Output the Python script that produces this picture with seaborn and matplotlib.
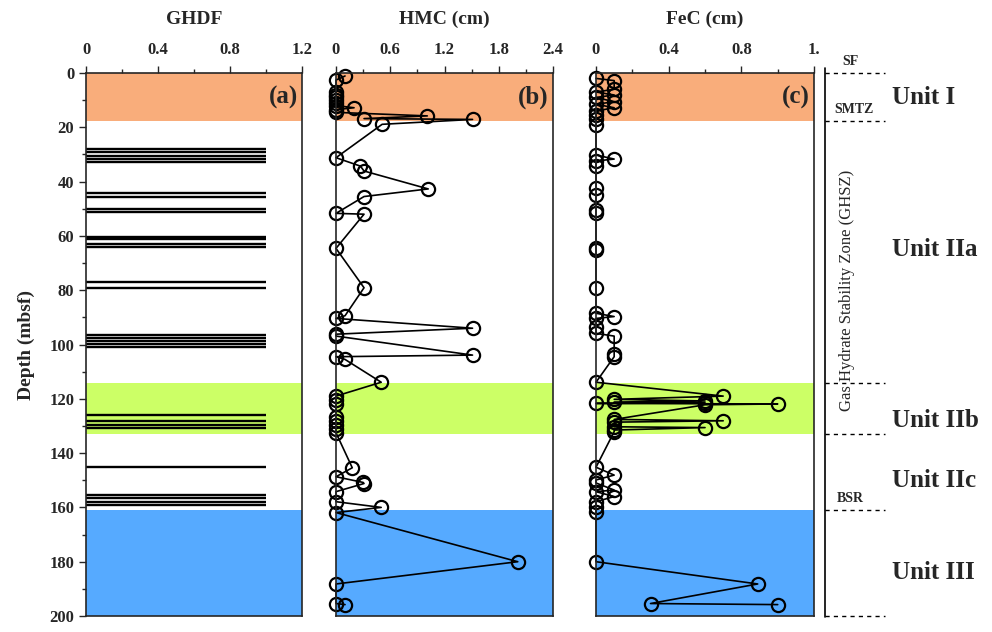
#!/usr/bin/env python3

import numpy as np
import pandas as pd
import seaborn as sns
import matplotlib.pyplot as plt
from matplotlib.ticker import MultipleLocator, FixedLocator

# GHDF: depths (mbsf) of the horizontal bars, each bar has value 1
ghdf_depth = [28.0, 29.2, 30.5, 31.6, 32.6,
              44.2, 45.5, 50.1, 51.1,
              60.3, 61.2, 63.0, 64.0,
              77.1, 79.1,
              96.5, 97.6, 98.7, 99.8, 100.8,
              125.8, 128.2, 129.5, 130.8,
              145.0,
              155.4, 156.6, 157.9, 159.1]
ghdf_value = 1.0

# HMC (cm) profile
hmc_depth = [1.1, 2.6, 7.0, 8.0, 9.0, 10.0, 11.0, 12.0, 12.8, 13.5, 14.5, 15.8, 16.8, 17.1, 18.9,
             31.2, 34.3, 36.1, 42.7, 45.5, 51.7, 52.0, 64.6, 79.1, 89.4, 90.4, 94.0, 96.2, 96.9,
             103.9, 104.5, 105.5, 113.9, 119.0, 120.5, 122.0, 126.6, 128.0, 129.5, 131.0, 132.5,
             145.4, 148.7, 150.8, 151.2, 154.2, 157.9, 160.0, 161.9, 180.0, 188.2, 195.4, 195.8]
hmc_value = [0.1, 0.0, 0.0, 0.0, 0.0, 0.0, 0.0, 0.0, 0.2, 0.0, 0.0, 1.01, 0.31, 1.51, 0.51,
             0.0, 0.27, 0.31, 1.02, 0.31, 0.0, 0.31, 0.0, 0.31, 0.1, 0.0, 1.51, 0.0, 0.0,
             1.51, 0.0, 0.1, 0.5, 0.0, 0.0, 0.0, 0.0, 0.0, 0.0, 0.0, 0.0,
             0.18, 0.0, 0.3, 0.31, 0.0, 0.0, 0.5, 0.0, 2.01, 0.0, 0.0, 0.1]

# FeC (cm) profile
fec_depth = [2.0, 2.8, 6.0, 7.0, 8.1, 9.0, 10.6, 11.5, 12.8, 14.0, 15.5, 17.0, 19.2,
             30.2, 31.7, 32.4, 34.3, 42.5, 44.9, 50.6, 51.5, 64.3, 65.2, 79.3,
             88.5, 89.7, 90.4, 93.4, 95.9, 96.9, 103.5, 104.5, 113.9,
             119.0, 120.2, 120.8, 121.2, 121.5, 121.7, 121.9, 122.2,
             127.6, 128.1, 128.6, 130.3, 130.6, 131.5, 132.1,
             145.2, 148.1, 149.9, 151.0, 153.6, 154.2, 156.0, 157.9, 159.7, 161.6,
             180.0, 188.2, 195.4, 195.8]
fec_value = [0.0, 0.1, 0.1, 0.0, 0.1, 0.0, 0.1, 0.0, 0.1, 0.0, 0.0, 0.0, 0.0,
             0.0, 0.1, 0.0, 0.0, 0.0, 0.0, 0.0, 0.0, 0.0, 0.0, 0.0,
             0.0, 0.1, 0.0, 0.0, 0.0, 0.1, 0.1, 0.1, 0.0,
             0.7, 0.1, 0.6, 0.1, 0.6, 0.0, 1.0, 0.6,
             0.1, 0.7, 0.1, 0.1, 0.6, 0.1, 0.1,
             0.0, 0.1, 0.0, 0.0, 0.1, 0.0, 0.1, 0.0, 0.0, 0.0,
             0.0, 0.89, 0.3, 1.0]

# zone bands (top, bottom, colour)
bands = [(0, 17.7, "#F9AD7B"), (114.2, 133.0, "#CCFF66"), (161.0, 200, "#56AAFF")]

# right side annotation
boundary_depth = [0, 17.7, 114.2, 133.0, 161.0, 200]
unit_labels = ["Unit I", "Unit IIa", "Unit IIb", "Unit IIc", "Unit III"]
unit_depth = [9, 65, 128, 150, 184]


def style_panel(ax, xmax, major, labels, title, tag):
    for top, bot, col in bands:
        ax.axhspan(top, bot, color=col, zorder=0, lw=0)
    ax.set_xlim(0, xmax)
    ax.set_ylim(200, 0)
    ax.xaxis.tick_top()
    ax.xaxis.set_label_position("top")
    ax.xaxis.set_major_locator(FixedLocator(np.arange(0, xmax + 1e-9, major)))
    ax.xaxis.set_minor_locator(MultipleLocator(major / 2))
    ax.set_xticklabels(labels, fontweight="bold", fontsize=12)
    ax.tick_params(axis="x", which="major", direction="out", length=5, width=1, pad=6)
    ax.tick_params(axis="x", which="minor", direction="out", length=3, width=1)
    ax.set_title(title, fontweight="bold", fontsize=14, pad=35)
    ax.set_xlabel("")
    ax.set_ylabel("")
    ax.text(0.98, 0.955, tag, transform=ax.transAxes, ha="right", va="center",
            fontsize=18, fontweight="bold")
    for s in ax.spines.values():
        s.set_linewidth(1.2)
        s.set_zorder(5)


def main():
    sns.set_style("ticks")
    plt.rcParams["font.family"] = ["Liberation Serif", "DejaVu Serif"]

    fig = plt.figure(figsize=(9.92, 6.32), dpi=100)
    bottom, height = 0.0253, 0.8592
    ax1 = fig.add_axes([0.0867, bottom, 0.2177, height])
    ax2 = fig.add_axes([0.3387, bottom, 0.2188, height])
    ax3 = fig.add_axes([0.6008, bottom, 0.2198, height])
    ax4 = fig.add_axes([820 / 992, bottom, 172 / 992, height])

    # (a) GHDF bars
    ax1.hlines(ghdf_depth, 0, ghdf_value, color="black", lw=1.7, zorder=3)
    style_panel(ax1, 1.2, 0.4, ["0", "0.4", "0.8", "1.2"], "GHDF", "(a)")
    ax1.yaxis.set_minor_locator(MultipleLocator(10))
    ax1.set_yticks(np.arange(0, 201, 20))
    ax1.set_yticklabels([str(v) for v in range(0, 201, 20)], fontweight="bold", fontsize=12)
    ax1.tick_params(axis="y", which="major", direction="out", length=5, width=1)
    ax1.tick_params(axis="y", which="minor", direction="out", length=3, width=1)
    ax1.set_ylabel("Depth (mbsf)", fontweight="bold", fontsize=14, labelpad=10)

    # (b) HMC and (c) FeC profiles
    hmc = pd.DataFrame({"depth": hmc_depth, "value": hmc_value})
    fec = pd.DataFrame({"depth": fec_depth, "value": fec_value})
    for ax, df in [(ax2, hmc), (ax3, fec)]:
        sns.lineplot(data=df, x="value", y="depth", ax=ax, sort=False, orient="y",
                     estimator=None, color="black", lw=1.2, marker="o", markersize=9.5,
                     markerfacecolor="none", markeredgecolor="black", markeredgewidth=1.6,
                     zorder=4, clip_on=False)

    style_panel(ax2, 2.4, 0.6, ["0", "0.6", "1.2", "1.8", "2.4"], "HMC (cm)", "(b)")
    style_panel(ax3, 1.2, 0.4, ["0", "0.4", "0.8", "1."], "FeC (cm)", "(c)")
    for ax in (ax2, ax3):
        ax.set_ylim(200, 0)
        ax.set_yticks([])

    # right annotation column
    ax4.set_xlim(0, 1)
    ax4.set_ylim(200, 0)
    ax4.axis("off")
    ax4.plot([0.029, 0.029], [-2, 200.5], color="black", lw=1.2, clip_on=False)
    for d in boundary_depth:
        ax4.plot([0.03, 0.38], [d, d], color="black", lw=1.0, ls=(0, (3, 3)), clip_on=False)
    ax4.text(0.175, -2.0, "SF", ha="center", va="bottom", fontsize=10, fontweight="bold")
    ax4.text(0.2, 15.7, "SMTZ", ha="center", va="bottom", fontsize=10, fontweight="bold")
    ax4.text(0.175, 159.0, "BSR", ha="center", va="bottom", fontsize=10, fontweight="bold")
    ax4.text(0.155, 80, "Gas Hydrate Stability Zone (GHSZ)", rotation=90,
             ha="center", va="center", fontsize=12)
    for lab, d in zip(unit_labels, unit_depth):
        ax4.text(0.42, d, lab, ha="left", va="center", fontsize=18, fontweight="bold")

    fig.savefig("out.png", dpi=100)


if __name__ == '__main__':
    main()
